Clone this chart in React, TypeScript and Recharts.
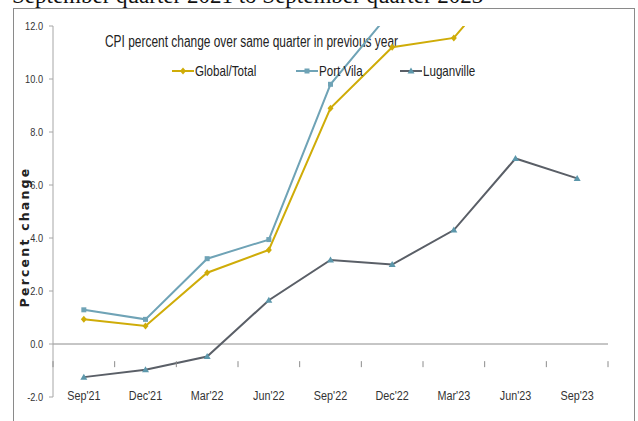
import React from "react";
import {
  LineChart,
  Line,
  XAxis,
  YAxis,
  ReferenceLine,
  Legend,
} from "recharts";

// quarters on the x axis
const quarters = [
  "Sep'21",
  "Dec'21",
  "Mar'22",
  "Jun'22",
  "Sep'22",
  "Dec'22",
  "Mar'23",
  "Jun'23",
  "Sep'23",
];

// CPI percent change over same quarter in previous year
const globalTotal = [0.93, 0.68, 2.69, 3.55, 8.9, 11.2, 11.55, 14.3, 13.4];
const portVila = [1.29, 0.93, 3.22, 3.94, 9.8, 12.6, 14.0, 16.2, 14.6];
const luganville = [-1.25, -0.97, -0.47, 1.65, 3.17, 3.0, 4.3, 7.0, 6.25];

const yTicks = [-2, 0, 2, 4, 6, 8, 10, 12];

const data = quarters.map((q, i) => ({
  quarter: q,
  global: globalTotal[i],
  portVila: portVila[i],
  luganville: luganville[i],
}));

const W = 638;
const H = 421;
const M = { top: 26, right: 30, bottom: 0, left: 13 };
const X_AXIS_H = 4;
const Y_AXIS_W = 40;
const plotLeft = M.left + Y_AXIS_W;
const plotW = W - M.right - plotLeft;
const plotH = H - M.top - M.bottom - X_AXIS_H;
const zeroY = M.top + (plotH * 12) / 14;
const band = plotW / quarters.length;

// no condensed font is installed, so squeeze a regular one
const SANS = "'Liberation Sans', Arial, sans-serif";
const SQUEEZE = 0.8;

const C_GLOBAL = "#CFAC08";
const C_PV = "#6FA3B6";
const C_LUG = "#5A5F67";
const C_LUG_MARK = "#5C97AB";

const NarrowText = ({ x, y, anchor = "start", size, fill = "#333", children }: any) => (
  <text
    transform={`translate(${x},${y}) scale(${SQUEEZE},1)`}
    textAnchor={anchor}
    dominantBaseline="central"
    fontFamily={SANS}
    fontSize={size}
    fill={fill}
  >
    {children}
  </text>
);

const Diamond = ({ cx, cy, color }: any) => (
  <path
    d={`M${cx},${cy - 3.5} L${cx + 3},${cy} L${cx},${cy + 3.5} L${cx - 3},${cy} Z`}
    fill={color}
  />
);
const Square = ({ cx, cy, color }: any) => (
  <rect x={cx - 2.5} y={cy - 2.5} width={5} height={5} fill={color} />
);
const Triangle = ({ cx, cy, color }: any) => (
  <path
    d={`M${cx},${cy - 3.5} L${cx + 3.5},${cy + 2.5} L${cx - 3.5},${cy + 2.5} Z`}
    fill={color}
  />
);

const XTick = (props: any) => {
  const { x, payload, index } = props;
  return (
    <g>
      {index === 0 && (
        <line x1={x - band / 2} x2={x - band / 2} y1={zeroY} y2={zeroY + 6} stroke="#8c8c8c" />
      )}
      <line x1={x + band / 2} x2={x + band / 2} y1={zeroY} y2={zeroY + 6} stroke="#8c8c8c" />
      <NarrowText x={x} y={zeroY + 34} anchor="middle" size={13.5}>
        {payload.value}
      </NarrowText>
    </g>
  );
};

const YTick = (props: any) => {
  const { x, y, payload } = props;
  return (
    <NarrowText x={x - 4} y={y} anchor="end" size={11.5}>
      {payload.value.toFixed(1)}
    </NarrowText>
  );
};

const legendItems = [
  { name: "Global/Total", color: C_GLOBAL, mark: "diamond", offset: 0 },
  { name: "Port Vila", color: C_PV, mark: "square", offset: 124 },
  { name: "Luganville", color: C_LUG, mark: "triangle", offset: 228 },
];

const LegendContent = () => (
  <svg width={320} height={16}>
    {legendItems.map((item) => (
      <g key={item.name} transform={`translate(${item.offset},0)`}>
        <line x1={0} x2={22} y1={8} y2={8} stroke={item.color} strokeWidth={2} />
        {item.mark === "diamond" && <Diamond cx={11} cy={8} color={item.color} />}
        {item.mark === "square" && <Square cx={11} cy={8} color={item.color} />}
        {item.mark === "triangle" && <Triangle cx={11} cy={8} color={C_LUG_MARK} />}
        <NarrowText x={23} y={8} size={14.5} fill="#222">
          {item.name}
        </NarrowText>
      </g>
    ))}
  </svg>
);

export default function App() {
  return (
    <div
      style={{
        position: "absolute",
        left: 0,
        top: 0,
        width: W,
        height: H,
        overflow: "hidden",
        background: "#fff",
      }}
    >
      {/* page heading, cut off at the top */}
      <div
        style={{
          position: "absolute",
          left: 12,
          top: -15,
          fontFamily: "'Liberation Serif', 'Times New Roman', serif",
          fontSize: 23,
          lineHeight: "22px",
          color: "#111",
          whiteSpace: "nowrap",
        }}
      >
        September quarter 2021 to September quarter 2023
      </div>
      <div
        style={{
          position: "absolute",
          left: 13,
          top: 8,
          width: 622,
          height: 430,
          border: "1px solid #8a8a8a",
          boxSizing: "border-box",
        }}
      />
      <div style={{ position: "absolute", left: 0, top: 0 }}>
        <LineChart width={W} height={H} data={data} margin={M}>
          <XAxis
            dataKey="quarter"
            height={X_AXIS_H}
            axisLine={false}
            tickLine={false}
            tick={<XTick />}
            interval={0}
            padding={{ left: band / 2, right: band / 2 }}
          />
          <YAxis
            width={Y_AXIS_W}
            domain={[-2, 12]}
            ticks={yTicks}
            allowDataOverflow
            interval={0}
            axisLine={{ stroke: "#a6a6a6" }}
            tickLine={{ stroke: "#a6a6a6" }}
            tickSize={4}
            tick={<YTick />}
            label={() => (
              <text
                x={24}
                y={237}
                transform="rotate(-90 24 237)"
                textAnchor="middle"
                dominantBaseline="central"
                fontFamily="'DejaVu Sans', Verdana, sans-serif"
                fontWeight="bold"
                fontSize={12.5}
                letterSpacing={2.2}
                fill="#222"
              >
                Percent change
              </text>
            )}
          />
          <ReferenceLine y={0} stroke="#8c8c8c" strokeWidth={1} />
          <text
            x={105}
            y={41}
            dominantBaseline="central"
            fontFamily={SANS}
            fontSize={16}
            fill="#222"
            textLength={293}
            lengthAdjust="spacingAndGlyphs"
          >
            CPI percent change over same quarter in previous year
          </text>
          <Legend
            content={<LegendContent />}
            wrapperStyle={{ position: "absolute", left: 172, top: 63, width: "auto" }}
          />
          <Line
            dataKey="global"
            name="Global/Total"
            stroke={C_GLOBAL}
            strokeWidth={2}
            isAnimationActive={false}
            dot={(p: any) => <Diamond key={`g${p.index}`} cx={p.cx} cy={p.cy} color={C_GLOBAL} />}
          />
          <Line
            dataKey="portVila"
            name="Port Vila"
            stroke={C_PV}
            strokeWidth={2}
            isAnimationActive={false}
            dot={(p: any) => <Square key={`p${p.index}`} cx={p.cx} cy={p.cy} color={C_PV} />}
          />
          <Line
            dataKey="luganville"
            name="Luganville"
            stroke={C_LUG}
            strokeWidth={2}
            isAnimationActive={false}
            dot={(p: any) => (
              <Triangle key={`l${p.index}`} cx={p.cx} cy={p.cy} color={C_LUG_MARK} />
            )}
          />
        </LineChart>
      </div>
    </div>
  );
}
